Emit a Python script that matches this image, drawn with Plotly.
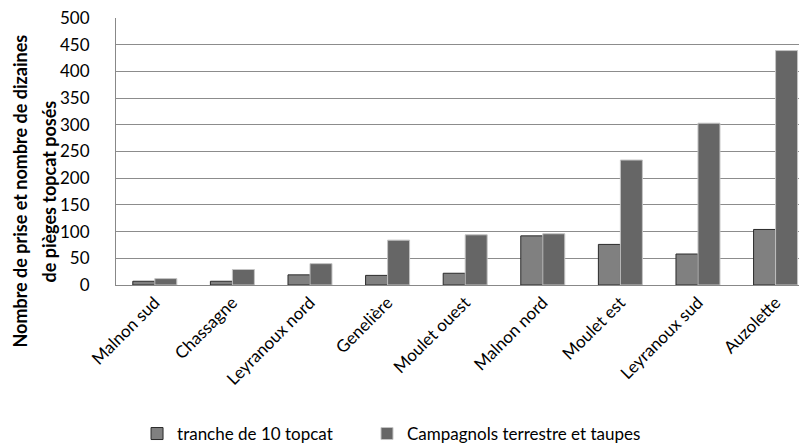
import plotly.graph_objects as go

# Sites and values
sites = ['Malnon sud', 'Chassagne', 'Leyranoux nord', 'Genelière', 'Moulet ouest',
         'Malnon nord', 'Moulet est', 'Leyranoux sud', 'Auzolette']
tranches_topcat = [7, 7, 19, 18, 22, 92, 76, 58, 104]
campagnols_taupes = [12, 29, 40, 84, 94, 96, 234, 303, 439]

y_ticks = [0, 50, 100, 150, 200, 250, 300, 350, 400, 450, 500]

title_lines = ['Nombre de prise et nombre de dizaines', 'de pièges topcat posés']

FONT = 'Lato'
# page body has an 8px margin, so the figure is a bit smaller than the window
FIG_W, FIG_H = 799, 436
PLOT_L, PLOT_T, PLOT_B = 108, 10, 159

fig = go.Figure()

fig.add_trace(go.Bar(
    x=list(range(len(sites))),
    y=tranches_topcat,
    name='tranche de 10 topcat',
    marker=dict(color='#808080', line=dict(color='#2a2a2a', width=1)),
    legend='legend',
    showlegend=True,
))

fig.add_trace(go.Bar(
    x=list(range(len(sites))),
    y=campagnols_taupes,
    name='Campagnols terrestre et taupes',
    marker=dict(color='#666666', line=dict(color='#c4c4c4', width=1)),
    legend='legend2',
    showlegend=True,
))

legend_style = dict(
    orientation='h',
    xref='container',
    yref='container',
    xanchor='left',
    y=0.023,
    yanchor='middle',
    font=dict(family=FONT, size=17, color='black'),
    bgcolor='rgba(0,0,0,0)',
    visible=True,
)

fig.update_layout(
    width=FIG_W,
    height=FIG_H,
    showlegend=True,
    barmode='group',
    bargap=0.433,
    bargroupgap=0,
    plot_bgcolor='white',
    paper_bgcolor='white',
    font=dict(family=FONT, size=17, color='black'),
    margin=dict(l=PLOT_L, r=0, t=PLOT_T, b=PLOT_B, autoexpand=False),
    legend=dict(x=0.1615, **legend_style),
    legend2=dict(x=0.4493, **legend_style),
)

# Two-line rotated y-axis title
for text, xshift in zip(title_lines, [-96, -67]):
    fig.add_annotation(
        text=f'<b>{text}</b>',
        xref='paper', yref='paper',
        x=0, y=0.35,
        xshift=xshift,
        xanchor='center', yanchor='middle',
        textangle=-90,
        showarrow=False,
        font=dict(family=FONT, size=18, color='black'),
    )

fig.update_xaxes(
    tickmode='array',
    tickvals=list(range(len(sites))),
    ticktext=sites,
    tickangle=-45,
    range=[-0.5, 8.405],
    showgrid=False,
    showline=True,
    linecolor='#888888',
    linewidth=1,
    ticks='',
    tickfont=dict(family=FONT, size=17, color='black'),
)

fig.update_yaxes(
    range=[0, 500],
    tickvals=y_ticks,
    showgrid=True,
    gridcolor='#8c8c8c',
    gridwidth=1,
    showline=True,
    linecolor='#888888',
    linewidth=1,
    ticks='',
    ticklabelstandoff=22,
    ticklabeloverflow='allow',
    zeroline=False,
    tickfont=dict(family=FONT, size=17, color='black'),
)

fig.write_html('out.html')
